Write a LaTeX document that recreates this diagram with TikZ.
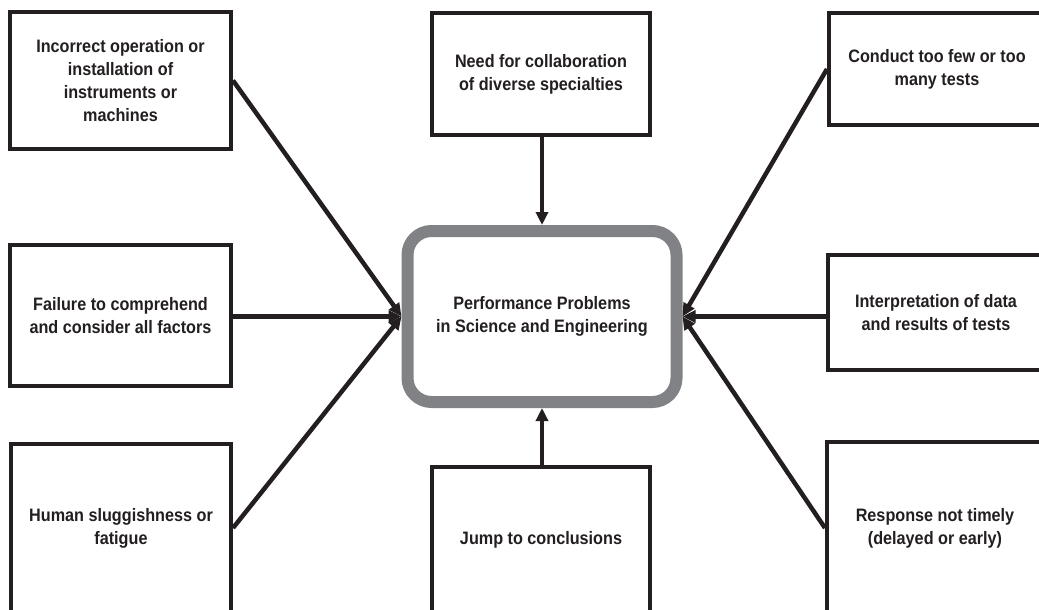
\documentclass[tikz,border=0pt]{standalone}
\usepackage{fontspec}
\setmainfont{Liberation Sans}[FakeStretch=0.9]
\usetikzlibrary{arrows.meta}
\definecolor{ink}{HTML}{231F20}
\definecolor{rim}{HTML}{808285}
\begin{document}
\begin{tikzpicture}[x=1pt, y=-1pt, >={Triangle[length=13pt,width=12pt]},
  box/.style={draw=ink, line width=4pt, fill=white, align=center, text=ink,
    font=\fontsize{18}{23}\selectfont\bfseries, inner sep=0pt},
  link/.style={->, draw=ink, line width=4.5pt}]
\useasboundingbox (0,0) rectangle (1039,610);
\clip (0,0) rectangle (1039,610);

\node[box, minimum width=221pt, minimum height=137pt](L1) at (120.5,80.5){Incorrect operation or\\installation of\\instruments or\\machines};
\node[box, minimum width=221pt, minimum height=141pt](L2) at (120.5,315.5){Failure to comprehend\\and consider all factors};
\node[box, minimum width=220pt, minimum height=168pt](L3) at (121,528){Human sluggishness or\\fatigue};
\node[box, minimum width=218pt, minimum height=122pt](T) at (541,74){Need for collaboration\\of diverse specialties};
\node[box, minimum width=218pt, minimum height=146pt](B) at (541,540){Jump to conclusions};
\node[box, minimum width=216pt, minimum height=112pt](R1) at (937,69){Conduct too few or too\\many tests};
\node[box, minimum width=216pt, minimum height=115pt](R2) at (936,312.5){Interpretation of data\\and results of tests};
\node[box, minimum width=216pt, minimum height=172pt](R3) at (935,528){Response not timely\\(delayed or early)};

\node[draw=rim, line width=12pt, rounded corners=24pt, minimum width=269pt, minimum height=171pt,
  align=center, text=ink, font=\fontsize{18}{23}\selectfont\bfseries](P) at (542,316.5){Performance Problems\\in Science and Engineering};

\draw[link](L1.east) -- (P.west);
\draw[link](L2.east |- P.west) -- (P.west);
\draw[link](L3.east) -- (P.west);
\draw[link](T.south -| P.north) -- (P.north);
\draw[link](B.north -| P.south) -- (P.south);
\draw[link](R1.west) -- (P.east);
\draw[link](R2.west |- P.east) -- (P.east);
\draw[link](R3.west) -- (P.east);
\end{tikzpicture}
\end{document}
